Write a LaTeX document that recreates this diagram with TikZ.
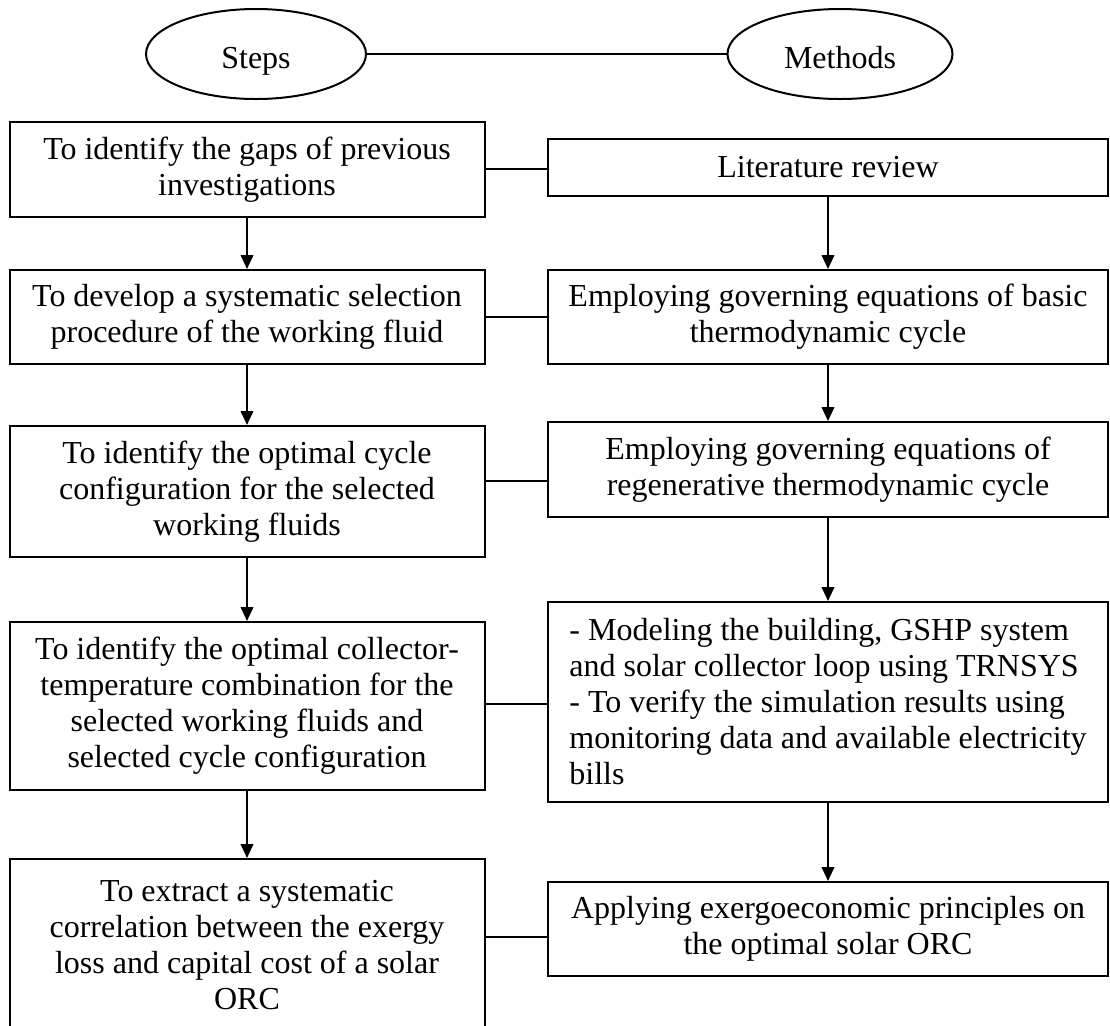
\documentclass[tikz,border=0pt]{standalone}
\usepackage{fontspec}
\setmainfont{Liberation Serif}
\usetikzlibrary{arrows.meta,positioning,shapes.geometric,calc}

\begin{document}
\begin{tikzpicture}[
x=0.5pt, y=-0.5pt,
every node/.style={font=\fontsize{16}{18}\selectfont},
head/.style={draw, ellipse, line width=1pt, minimum width=110pt, minimum height=45pt, text height=16pt, text depth=2pt},
box/.style={draw, line width=1pt, align=center, inner sep=0pt},
stepbox/.style={box, minimum width=237.5pt},
methbox/.style={box, minimum width=280pt},
arrow/.style={-{Triangle[length=7pt,width=6.3pt]}, line width=1pt},
link/.style={line width=1pt}
]
\clip (0,0) rectangle (1110,1025);

\node[head] (steps) at (256,54) {Steps};
\node[head, minimum width=112.5pt] (methods) at (840,54) {Methods};

% steps
\node[stepbox, minimum height=47.5pt] (s1) at (247,169.5) {To identify the gaps of previous\\investigations};
\node[stepbox, minimum height=47pt] (s2) at (247,317) {To develop a systematic selection\\procedure of the working fluid};
\node[stepbox, minimum height=65.5pt] (s3) at (247,491.5) {To identify the optimal cycle\\configuration for the selected\\working fluids};
\node[stepbox, minimum height=84pt] (s4) at (247,706) {To identify the optimal collector-\\temperature combination for the\\selected working fluids and\\selected cycle configuration};
\node[stepbox, minimum height=86pt] (s5) at (247,945) {To extract a systematic\\correlation between the exergy\\loss and capital cost of a solar\\ORC};

% methods
\node[methbox, minimum height=28.5pt] (m1) at (828,167.5) {Literature review};
\node[methbox, minimum height=47pt] (m2) at (828,317) {Employing governing equations of basic\\thermodynamic cycle};
\node[methbox, minimum height=47.5pt] (m3) at (828,469.5) {Employing governing equations of\\regenerative thermodynamic cycle};
\node[methbox, minimum height=100pt, align=left] (m4) at (828,702) {- Modeling the building, GSHP system\\and solar collector loop using TRNSYS\\- To verify the simulation results using\\monitoring data and available electricity\\bills};
\node[methbox, minimum height=47pt] (m5) at (828,929) {Applying exergoeconomic principles on\\the optimal solar ORC};

\draw[link] (steps) -- (methods);
\foreach \i in {1,...,5}{
  \coordinate (c\i) at ($(s\i)!0.5!(m\i)$);
  \draw[link] (s\i.east |- c\i) -- (m\i.west |- c\i);
}
\foreach \i/\j in {1/2,2/3,3/4,4/5}{
  \draw[arrow] (s\i) -- (s\j);
  \draw[arrow] (m\i) -- (m\j);
}
\end{tikzpicture}
\end{document}
